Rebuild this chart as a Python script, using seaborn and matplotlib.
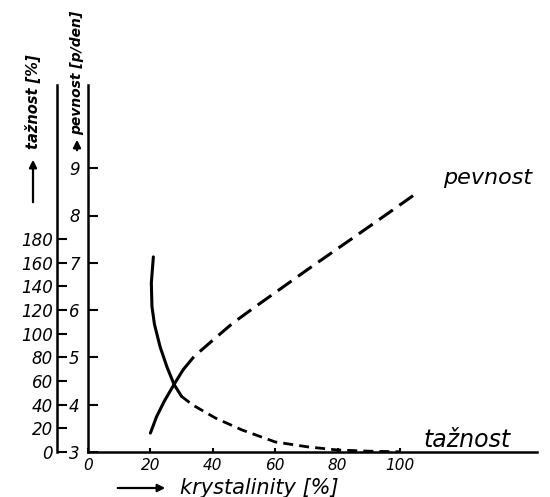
import matplotlib
matplotlib.use("Agg")
import matplotlib.pyplot as plt
import seaborn as sns

# ---- data ----
crystallinity_ticks = [0, 20, 40, 60, 80, 100]
pevnost_ticks = [3, 4, 5, 6, 7, 8, 9]
taznost_ticks = [0, 20, 40, 60, 80, 100, 120, 140, 160, 180]

# pevnost [p/den] vs crystallinity [%]
pevnost_solid_x = [20, 22, 24.5, 27.5, 30.5]
pevnost_solid_y = [3.4, 3.75, 4.08, 4.42, 4.74]
pevnost_dash_x = [30.5, 34, 38.9, 46.3, 53.6, 60, 70, 80, 90, 104.2]
pevnost_dash_y = [4.74, 5.02, 5.30, 5.72, 6.07, 6.37, 6.84, 7.30, 7.76, 8.42]

# tažnost [%] vs crystallinity [%]
taznost_solid_x = [20.95, 20.3, 20.5, 21.3, 23.1, 25.3, 27.6, 30.0]
taznost_solid_y = [165, 143, 123, 108, 89, 72, 57, 47]
taznost_dash_x = [30.0, 33.6, 41, 49.4, 60, 70.5, 80, 90, 100]
taznost_dash_y = [47, 39.7, 28.5, 18.6, 8.5, 4.3, 1.7, 0.7, 0.2]

# ---- style ----
sns.set_style("ticks")
plt.rcParams["font.family"] = ["DejaVu Sans"]
plt.rcParams["font.style"] = "italic"
for k in ("text.color", "axes.labelcolor", "xtick.color", "ytick.color", "axes.edgecolor"):
    plt.rcParams[k] = "black"

W, H = 550, 497
fig = plt.figure(figsize=(5.5, 4.97), dpi=100)
ax = fig.add_axes([88 / W, 45 / H, 449 / W, 367 / H])
ax2 = ax.twinx()

px_per_pct = 3.12
px_per_p = 47.3
ax.set_xlim(0, 449 / px_per_pct)
ax.set_ylim(3, 3 + 367 / px_per_p)
ax2.set_ylim(0, 40 * (367 / px_per_p))

# curves
sns.lineplot(x=pevnost_solid_x, y=pevnost_solid_y, ax=ax, color="black",
             linewidth=2.2, sort=False, estimator=None)
sns.lineplot(x=pevnost_dash_x, y=pevnost_dash_y, ax=ax, color="black",
             linewidth=2.2, sort=False, estimator=None, linestyle=(0, (5.5, 2.6)))
sns.lineplot(x=taznost_solid_x, y=taznost_solid_y, ax=ax2, color="black",
             linewidth=2.2, sort=False, estimator=None)
sns.lineplot(x=taznost_dash_x, y=taznost_dash_y, ax=ax2, color="black",
             linewidth=2.0, sort=False, estimator=None, linestyle=(0, (3.6, 2.2)))

# axes styling
for a in (ax, ax2):
    for s in ("top", "right"):
        a.spines[s].set_visible(False)
ax2.spines["bottom"].set_visible(False)
ax.spines["left"].set_linewidth(1.8)
ax.spines["bottom"].set_linewidth(1.8)
ax2.spines["left"].set_visible(True)
ax2.spines["left"].set_linewidth(1.8)
ax2.spines["left"].set_position(("axes", -31 / 449))
ax2.yaxis.set_ticks_position("left")
ax2.yaxis.set_label_position("left")

ax.set_xticks(crystallinity_ticks)
ax.set_xticklabels([str(v) for v in crystallinity_ticks])
ax.set_yticks(pevnost_ticks)
ax.set_yticklabels([str(v) for v in pevnost_ticks])
ax2.set_yticks(taznost_ticks)
ax2.set_yticklabels([str(v) for v in taznost_ticks])

ax.tick_params(axis="y", direction="in", length=7, width=1.5, pad=6, labelsize=12)
ax.tick_params(axis="x", direction="in", length=3, width=1.5, pad=4, labelsize=11)
ax2.tick_params(axis="y", direction="in", length=7, width=1.5, pad=3, labelsize=12,
                left=True, labelleft=True, right=False, labelright=False)
ax.set_xlabel("")
ax.set_ylabel("")
ax2.set_ylabel("")

# curve labels
ax.text(113.8, 8.79, "pevnost", fontsize=16, ha="left", va="center")
ax.text(107.4, 3.1, "tažnost", fontsize=17, ha="left", va="baseline")

# axis titles with arrows (figure pixel positions)
def f(x, y):
    return (x / W, 1 - y / H)

fig.text(*f(33, 102), "tažnost [%]", rotation=90, ha="center", va="center",
         fontsize=10.5, fontweight="bold")
fig.text(*f(77, 73), "pevnost [p/den]", rotation=90, ha="center", va="center",
         fontsize=10, fontweight="bold")
fig.text(*f(180, 488), "krystalinity [%]", ha="left", va="center", fontsize=15)

arrow = dict(arrowstyle="-|>", color="black", lw=1.6, mutation_scale=11)
ax.annotate("", xy=f(33, 157), xytext=f(33, 205), xycoords="figure fraction",
            textcoords="figure fraction", arrowprops=arrow, annotation_clip=False)
ax.annotate("", xy=f(77, 137), xytext=f(77, 153), xycoords="figure fraction",
            textcoords="figure fraction", arrowprops=arrow, annotation_clip=False)
ax.annotate("", xy=f(168, 488), xytext=f(115, 488), xycoords="figure fraction",
            textcoords="figure fraction", arrowprops=arrow, annotation_clip=False)

fig.savefig("out.png", dpi=100)
